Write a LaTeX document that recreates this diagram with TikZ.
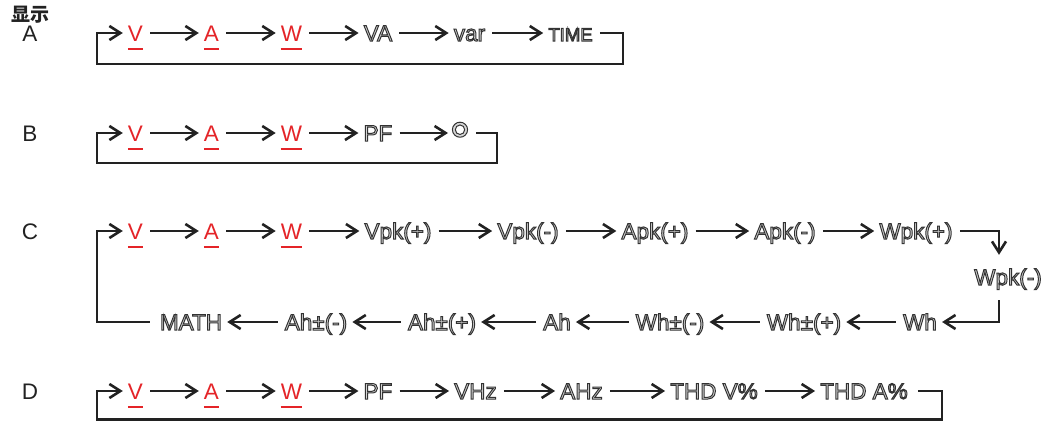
\documentclass[tikz,border=0pt]{standalone}
\usepackage{fontspec}
\setmainfont{Liberation Sans}
\newfontfamily\cjkfont{Noto Sans CJK SC}
\usetikzlibrary{arrows.meta}
\definecolor{myred}{HTML}{E42428}
\definecolor{ink}{HTML}{222222}
\newcommand{\otext}[1]{\special{pdf:literal direct q 2 Tr 1 w 0.84 0.84 0.84 rg 0.2 0.2 0.2 RG}#1\special{pdf:literal direct Q}}
\begin{document}
\begin{tikzpicture}[x=1pt,y=-1pt,
  itm/.style={inner sep=0pt, text height=16pt, text depth=0pt, font=\fontsize{22.5}{24}\selectfont},
  ritm/.style={itm, text=myred},
  lbl/.style={itm, text=ink},
  arr/.style={draw=ink, line width=2.6pt, -{Straight Barb[length=11pt,width=14pt]}, shorten <=7pt, shorten >=5pt},
  ul/.style={draw=myred, line width=2.2pt}]
\useasboundingbox (0,0) rectangle (1055,421);
\node[inner sep=0pt, font=\cjkfont\bfseries\fontsize{19}{20}\selectfont, text=ink] (title) at (30,15) {显示};
% Row A
\node[lbl] (la) at (30,33) {A};
\node[ritm] (a1) at (135.5,33) {V};
\node[ritm] (a2) at (211.5,33) {A};
\node[ritm] (a3) at (291.5,33) {W};
\node[itm] (a4) at (378,33) {\otext{VA}};
\node[itm] (a5) at (469.5,33) {\otext{var}};
\node[itm, font=\fontsize{18.5}{20}\selectfont] (a6) at (570.5,33) {\otext{TIME}};
\draw[arr] (a1) -- (a2);
\draw[arr] (a2) -- (a3);
\draw[arr] (a3) -- (a4);
\draw[arr] (a4) -- (a5);
\draw[arr] (a5) -- (a6);
\coordinate (aR) at (623,64);
\coordinate (aL) at (97,64);
\draw[arr] (a6.east) -| (aR) -- (aL) |- (a1.west);
\foreach \n in {a1,a2,a3} \draw[ul] ([yshift=-8pt]\n.south west) -- ([yshift=-8pt]\n.south east);
% Row B
\node[lbl] (lb) at (30,133) {B};
\node[ritm] (b1) at (135.5,133) {V};
\node[ritm] (b2) at (211.5,133) {A};
\node[ritm] (b3) at (291.5,133) {W};
\node[itm] (b4) at (378,133) {\otext{PF}};
\node[inner sep=0pt, anchor=north, font=\fontsize{54}{54}\selectfont] (b5) at (460,122) {\otext{°}};
\draw[arr] (b1) -- (b2);
\draw[arr] (b2) -- (b3);
\draw[arr] (b3) -- (b4);
\draw[arr, shorten >=1pt] (b4.east) -- (b4.east -| b5.west);
\coordinate (bR) at (497,163);
\coordinate (bL) at (97,163);
\draw[arr, shorten <=5pt] (b5.east |- b4.east) -| (bR) -- (bL) |- (b1.west);
\foreach \n in {b1,b2,b3} \draw[ul] ([yshift=-8pt]\n.south west) -- ([yshift=-8pt]\n.south east);
% Row C
\node[lbl] (lc) at (30,231) {C};
\node[ritm] (c1) at (135.5,231) {V};
\node[ritm] (c2) at (211.5,231) {A};
\node[ritm] (c3) at (291.5,231) {W};
\node[itm] (c4) at (398,231) {\otext{Vpk(+)}};
\node[itm] (c5) at (528,231) {\otext{Vpk(-)}};
\node[itm] (c6) at (655,231) {\otext{Apk(+)}};
\node[itm] (c7) at (785,231) {\otext{Apk(-)}};
\node[itm] (c8) at (916,231) {\otext{Wpk(+)}};
\node[itm] (c9) at (1008,277) {\otext{Wpk(-)}};
\node[itm] (c10) at (920,322) {\otext{Wh}};
\node[itm] (c11) at (804,322) {\otext{Wh±(+)}};
\node[itm] (c12) at (670,322) {\otext{Wh±(-)}};
\node[itm] (c13) at (557,322) {\otext{Ah}};
\node[itm] (c14) at (442,322) {\otext{Ah±(+)}};
\node[itm] (c15) at (316,322) {\otext{Ah±(-)}};
\node[itm] (c16) at (191,322) {\otext{MATH}};
\draw[arr] (c1) -- (c2);
\draw[arr] (c2) -- (c3);
\draw[arr] (c3) -- (c4);
\draw[arr] (c4) -- (c5);
\draw[arr] (c5) -- (c6);
\draw[arr] (c6) -- (c7);
\draw[arr] (c7) -- (c8);
\draw[arr, shorten >=14pt] (c8.east) -| ([xshift=-9pt]c9.north);
\draw[arr, shorten <=15pt] ([xshift=-9pt]c9.south) |- (c10.east);
\draw[arr] (c10) -- (c11);
\draw[arr] (c11) -- (c12);
\draw[arr] (c12) -- (c13);
\draw[arr] (c13) -- (c14);
\draw[arr] (c14) -- (c15);
\draw[arr] (c15) -- (c16);
\coordinate (cL) at (97,322);
\draw[arr, shorten <=10pt] (c16.west) -- (cL) |- (c1.west);
\foreach \n in {c1,c2,c3} \draw[ul] ([yshift=-8pt]\n.south west) -- ([yshift=-8pt]\n.south east);
% Row D
\node[lbl] (ld) at (30,391) {D};
\node[ritm] (d1) at (135.5,391) {V};
\node[ritm] (d2) at (211.5,391) {A};
\node[ritm] (d3) at (291.5,391) {W};
\node[itm] (d4) at (378,391) {\otext{PF}};
\node[itm] (d5) at (475.5,391) {\otext{VHz}};
\node[itm] (d6) at (581.5,391) {\otext{AHz}};
\node[itm] (d7) at (714,391) {\otext{THD V\%}};
\node[itm] (d8) at (864,391) {\otext{THD A\%}};
\draw[arr] (d1) -- (d2);
\draw[arr] (d2) -- (d3);
\draw[arr] (d3) -- (d4);
\draw[arr] (d4) -- (d5);
\draw[arr] (d5) -- (d6);
\draw[arr] (d6) -- (d7);
\draw[arr] (d7) -- (d8);
\coordinate (dR) at (942,419.5);
\coordinate (dL) at (97,419.5);
\draw[arr, shorten <=10pt] (d8.east) -| (dR) -- (dL) |- (d1.west);
\foreach \n in {d1,d2,d3} \draw[ul] ([yshift=-8pt]\n.south west) -- ([yshift=-8pt]\n.south east);
\end{tikzpicture}
\end{document}
